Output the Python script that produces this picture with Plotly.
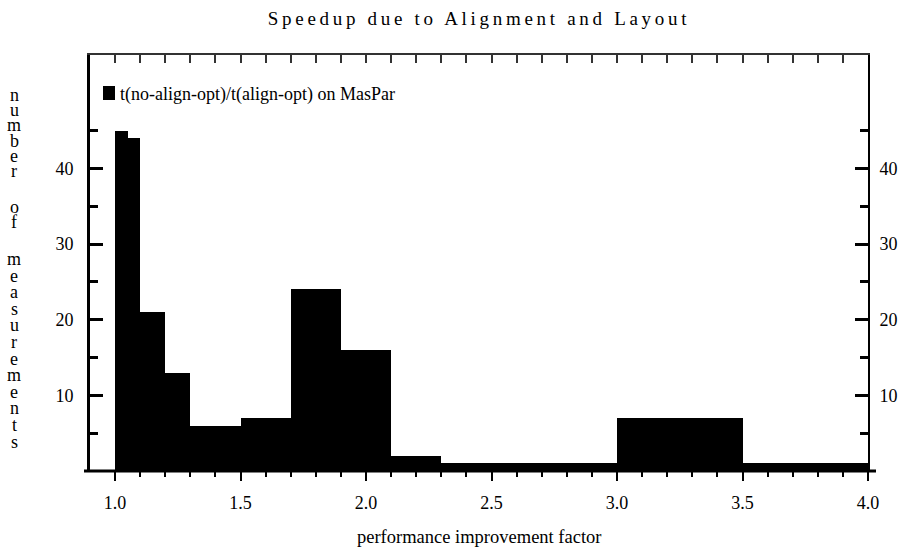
import plotly.graph_objects as go

# ---- data ----
bin_edges = [1.0, 1.05, 1.1, 1.2, 1.3, 1.5, 1.7, 1.9, 2.1, 2.3, 3.0, 3.5, 4.0]
counts = [45, 44, 21, 13, 6, 7, 24, 16, 2, 1, 7, 1]
series_name = "t(no-align-opt)/t(align-opt) on MasPar"

x_major = [1.0, 1.5, 2.0, 2.5, 3.0, 3.5, 4.0]
x_major_text = ["1.0", "1.5", "2.0", "2.5", "3.0", "3.5", "4.0"]
x_minor = [round(1.0 + 0.1 * i, 2) for i in range(31)]
y_major = [10, 20, 30, 40]
y_major_text = ["10", "20", "30", "40"]
y_minor = [5, 15, 25, 35, 45]

title_text = "Speedup due to Alignment and Layout"
x_title = "performance improvement factor"
y_title_words = ["number", "of", "measurements"]

FONT = "Liberation Serif"

centers = [(a + b) / 2 for a, b in zip(bin_edges[:-1], bin_edges[1:])]
widths = [b - a for a, b in zip(bin_edges[:-1], bin_edges[1:])]

fig = go.Figure()
fig.add_trace(go.Bar(
    x=centers, y=counts, width=widths, marker=dict(color="black", line=dict(width=0)),
    name=series_name, showlegend=False,
))
fig.add_trace(go.Scatter(x=[None], y=[None], xaxis="x2", yaxis="y2",
                         showlegend=False, hoverinfo="skip"))

W, H = 902, 556
L, R, T, B = 90, 34, 55, 85
pw, ph = W - L - R, H - T - B

def px_x(p):
    return (p - L) / pw

def px_y(p):
    return (H - B - p) / ph

fig.update_layout(
    width=W, height=H,
    margin=dict(l=L, r=R, t=T, b=B, pad=0, autoexpand=False),
    paper_bgcolor="white", plot_bgcolor="white",
    font=dict(family=FONT, size=18, color="black"),
    bargap=0,
    title=dict(text='<span style="letter-spacing:3.7px">' + title_text + '</span>',
               x=0.5, xref="paper", xanchor="center",
               y=1 - 18 / H, yref="container", yanchor="middle",
               font=dict(family=FONT, size=19, color="black")),
    xaxis=dict(range=[0.9, 4.0], showline=False, showgrid=False, zeroline=False,
               automargin=False,
               ticks="outside", tickvals=x_major, ticktext=x_major_text,
               ticklen=9, tickwidth=2, tickcolor="black", ticklabelstandoff=6,
               minor=dict(tickvals=x_minor, ticks="outside", ticklen=5, tickwidth=2,
                          tickcolor="black", showgrid=False),
               tickfont=dict(family=FONT, size=18, color="black")),
    xaxis2=dict(overlaying="x", side="top", matches="x", range=[0.9, 4.0],
                automargin=False,
                showline=True, linewidth=2, linecolor="#333", showgrid=False,
                zeroline=False, ticks="inside", tickvals=x_minor, ticklen=8,
                tickwidth=2, tickcolor="#333", showticklabels=False),
    yaxis=dict(range=[0, 55], showline=True, linewidth=3, linecolor="black",
               automargin=False,
               showgrid=False, zeroline=False, ticks="inside",
               tickvals=y_major, ticktext=y_major_text, ticklen=13, tickwidth=3,
               tickcolor="black", ticklabelstandoff=10,
               minor=dict(tickvals=y_minor, ticks="inside", ticklen=8, tickwidth=3,
                          tickcolor="black", showgrid=False),
               tickfont=dict(family=FONT, size=18, color="black")),
    yaxis2=dict(overlaying="y", side="right", matches="y", range=[0, 55],
                automargin=False,
                showline=True, linewidth=2, linecolor="black", showgrid=False,
                zeroline=False, ticks="inside", tickvals=y_major, ticktext=y_major_text,
                ticklen=13, tickwidth=3, tickcolor="black", ticklabelstandoff=6,
                minor=dict(tickvals=y_minor, ticks="inside", ticklen=8, tickwidth=3,
                           tickcolor="black", showgrid=False),
                tickfont=dict(family=FONT, size=18, color="black")),
)

# thick baseline extending slightly past both side axes
fig.add_shape(type="line", xref="paper", yref="paper",
              x0=px_x(84), x1=px_x(876), y0=0, y1=0,
              line=dict(color="black", width=3))

# legend (drawn manually)
fig.add_shape(type="rect", xref="paper", yref="paper",
              x0=px_x(103), x1=px_x(115), y0=px_y(100), y1=px_y(86),
              fillcolor="black", line=dict(width=0))
fig.add_annotation(text=series_name, xref="paper", yref="paper",
                   x=px_x(118), y=px_y(94), xanchor="left", yanchor="middle",
                   showarrow=False, font=dict(family=FONT, size=18, color="black"))

# x-axis title
fig.add_annotation(text=x_title, xref="paper", yref="paper",
                   x=0.5, y=px_y(537), xanchor="center", yanchor="middle",
                   showarrow=False, font=dict(family=FONT, size=18.5, color="black"))

# y-axis title: letters stacked vertically (pixel layout of each word)
word_starts = [95.0, 207.0, 259.0]
word_pitch = [15.2, 15.0, 16.6]
for word, start, pitch in zip(y_title_words, word_starts, word_pitch):
    for ci, ch in enumerate(word):
        fig.add_annotation(text=ch, xref="paper", yref="paper",
                           x=px_x(14), y=px_y(start + ci * pitch),
                           xanchor="center", yanchor="middle", showarrow=False,
                           font=dict(family=FONT, size=18, color="black"))

fig.write_html("out.html")
